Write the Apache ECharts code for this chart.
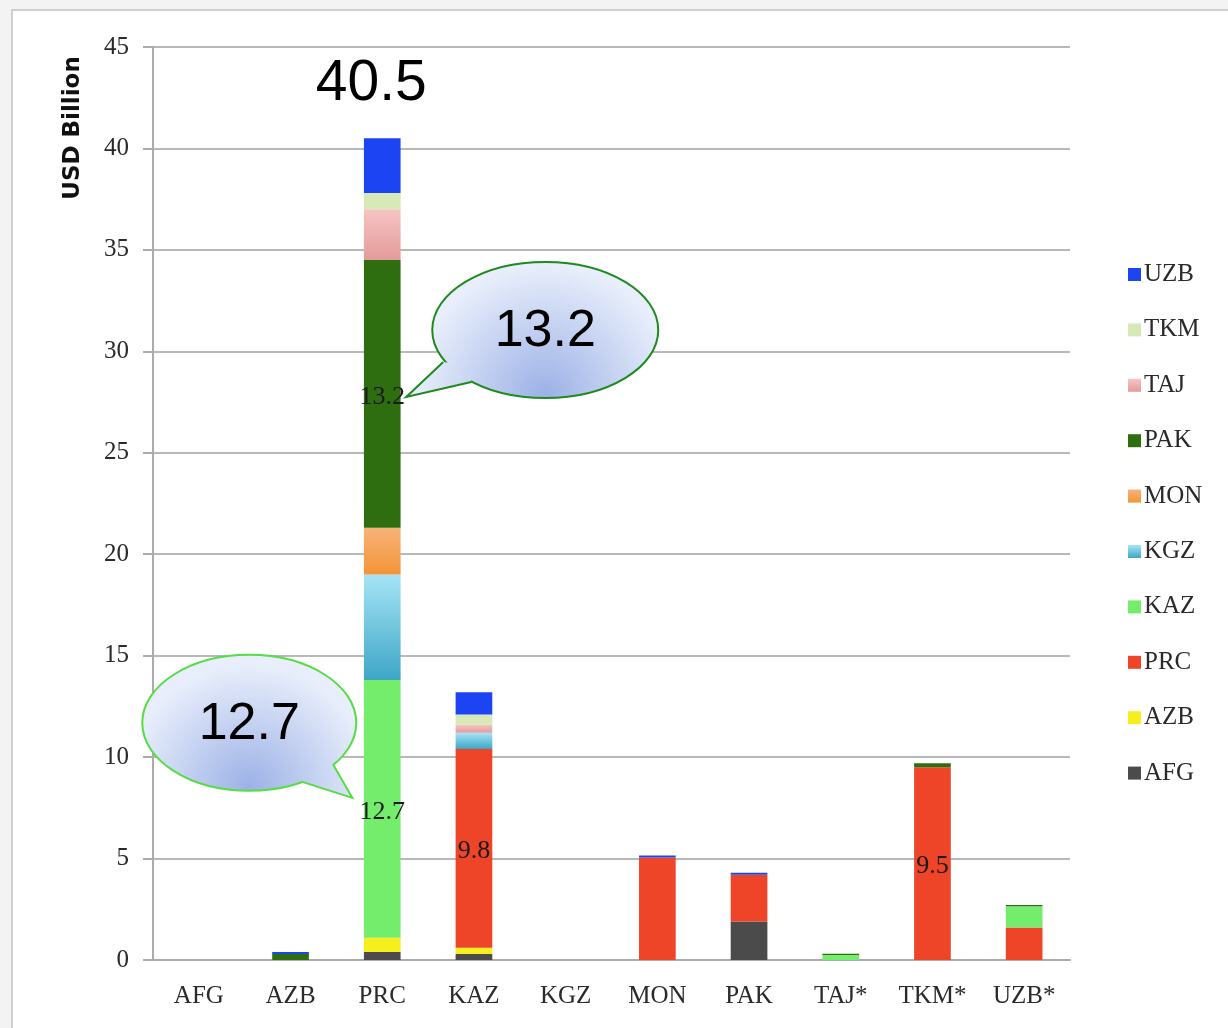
<!DOCTYPE html>
<html>
<head>
<meta charset="utf-8">
<script src="https://cdn.jsdelivr.net/npm/echarts@6/dist/echarts.min.js"></script>
<style>
  html, body { margin: 0; padding: 0; background: #f3f3f3; }
  #frame { position: absolute; left: 11px; top: 9px; width: 1240px; height: 1040px; background: #fff; border: 2px solid #cfcfcf; box-sizing: border-box; }
  #chart { position: absolute; left: 0; top: 0; width: 1228px; height: 1028px; }
</style>
</head>
<body>
<div id="frame"></div>
<div id="chart"></div>
<script>
// Categories (x axis)
var categories = ['AFG', 'AZB', 'PRC', 'KAZ', 'KGZ', 'MON', 'PAK', 'TAJ*', 'TKM*', 'UZB*'];
// Y ticks
var yMin = 0, yMax = 45, yInterval = 5;
// Stacked series (bottom to top), values in USD billion
var seriesNames = ['AFG', 'AZB', 'PRC', 'KAZ', 'KGZ', 'MON', 'PAK', 'TAJ', 'TKM', 'UZB'];
var AFG = [0, 0, 0.4, 0.3, 0, 0, 1.9, 0, 0, 0];
var AZB = [0, 0, 0.7, 0.3, 0, 0, 0, 0, 0, 0];
var PRC = [0, 0, 0, 9.8, 0, 5.05, 2.3, 0, 9.5, 1.6];
var KAZ = [0, 0, 12.7, 0, 0, 0, 0, 0.25, 0, 1.05];
var KGZ = [0, 0, 5.2, 0.8, 0, 0, 0, 0, 0, 0];
var MON = [0, 0, 2.3, 0, 0, 0, 0, 0, 0, 0];
var PAK = [0, 0.3, 13.2, 0, 0, 0, 0, 0.06, 0.2, 0.06];
var TAJ = [0, 0, 2.5, 0.4, 0, 0, 0, 0, 0, 0];
var TKM = [0, 0, 0.8, 0.5, 0, 0, 0, 0, 0, 0];
var UZB = [0, 0.1, 2.7, 1.1, 0, 0.1, 0.1, 0, 0, 0];
var values = { AFG: AFG, AZB: AZB, PRC: PRC, KAZ: KAZ, KGZ: KGZ, MON: MON, PAK: PAK, TAJ: TAJ, TKM: TKM, UZB: UZB };
// which data points carry an inside label
var labelled = { PRC: [3, 8], KAZ: [2], PAK: [2] };
// highlighted total and callouts
var totalLabel = { category: 2, value: 40.5, text: '40.5' };
var callouts = [
  { series: 'PAK', index: 2, text: '13.2' },
  { series: 'KAZ', index: 2, text: '12.7' }
];

function vgrad(a, b) {
  return new echarts.graphic.LinearGradient(0, 0, 0, 1, [{ offset: 0, color: a }, { offset: 1, color: b }]);
}
var colors = {
  AFG: '#4b4b4b',
  AZB: '#f7ee1e',
  PRC: '#ee4528',
  KAZ: '#74ec6c',
  KGZ: vgrad('#a6e4f7', '#3ea6c6'),
  MON: vgrad('#f8b27a', '#f39537'),
  PAK: '#2f6e10',
  TAJ: vgrad('#f7c4c4', '#e49a9a'),
  TKM: '#d6e9b6',
  UZB: '#1d44f2'
};
var serifFont = "'Liberation Serif', 'DejaVu Serif', serif";

var series = seriesNames.map(function (name) {
  var lab = labelled[name] || [];
  return {
    name: name,
    type: 'bar',
    stack: 'total',
    barWidth: '40%',
    itemStyle: { color: colors[name] },
    data: values[name].map(function (v, i) {
      var d = { value: v };
      if (lab.indexOf(i) >= 0) {
        d.label = {
          show: true, position: 'inside', color: '#1a1a1a',
          fontFamily: serifFont, fontSize: 26, offset: [0, 3]
        };
      }
      return d;
    })
  };
});

var chart = echarts.init(document.getElementById('chart'), null, { renderer: 'canvas' });
chart.setOption({
  backgroundColor: 'transparent',
  animation: false,
  grid: { left: 153, right: 158, top: 47, bottom: 68, containLabel: false },
  legend: {
    orient: 'vertical',
    left: 1123,
    top: 257,
    itemWidth: 13,
    itemHeight: 13,
    itemGap: 30.4,
    icon: 'rect',
    data: seriesNames.slice().reverse(),
    textStyle: { fontFamily: serifFont, fontSize: 25, color: '#2a2a2a', padding: [0, 0, 0, -2] }
  },
  xAxis: {
    type: 'category',
    data: categories,
    axisLine: { lineStyle: { color: '#ababab', width: 2 } },
    axisTick: { length: 8, lineStyle: { color: '#ababab', width: 2 } },
    axisLabel: { margin: 24, fontFamily: serifFont, fontSize: 25, color: '#2a2a2a' }
  },
  yAxis: {
    type: 'value',
    min: yMin, max: yMax, interval: yInterval,
    axisLine: { show: true, lineStyle: { color: '#ababab', width: 2 } },
    axisTick: { show: true, length: 10, lineStyle: { color: '#ababab', width: 2 } },
    splitLine: { lineStyle: { color: '#b8b8b8', width: 2 } },
    axisLabel: { margin: 24, fontFamily: serifFont, fontSize: 25, color: '#2a2a2a' }
  },
  series: series
});

// Annotations anchored to data positions
function segCenter(name, idx) {
  var base = 0;
  for (var k = 0; k < seriesNames.length; k++) {
    if (seriesNames[k] === name) break;
    base += values[seriesNames[k]][idx];
  }
  return chart.convertToPixel({ gridIndex: 0 }, [idx, base + values[name][idx] / 2]);
}
var g = [];
var totalPos = chart.convertToPixel({ gridIndex: 0 }, [totalLabel.category, totalLabel.value]);
g.push({
  type: 'text', x: totalPos[0] - 11, y: totalPos[1] - 54, z: 100,
  style: { text: totalLabel.text, font: "57px 'Liberation Sans', Arial, sans-serif", fill: '#000', align: 'center', verticalAlign: 'middle' }
});

function bubble(tip, cx, cy, rx, ry, b1, b2, stroke, text) {
  function fill() {
    return new echarts.graphic.RadialGradient(cx, cy + ry * 0.95, rx * 1.15, [
      { offset: 0, color: '#9cb1e6' }, { offset: 1, color: '#e8eefb' }
    ], true);
  }
  var inner = [(b1[0] + b2[0]) / 2 + (cx - (b1[0] + b2[0]) / 2) * 0.15, (b1[1] + b2[1]) / 2 + (cy - (b1[1] + b2[1]) / 2) * 0.15];
  g.push({ type: 'ellipse', z: 100, shape: { cx: cx, cy: cy, rx: rx, ry: ry }, style: { fill: fill(), stroke: stroke, lineWidth: 2 } });
  g.push({ type: 'polygon', z: 101, shape: { points: [b1, tip, b2, inner] }, style: { fill: fill(), stroke: null } });
  g.push({ type: 'polyline', z: 102, shape: { points: [b1, tip, b2] }, style: { stroke: stroke, lineWidth: 2, fill: null } });
  g.push({ type: 'text', z: 103, x: cx, y: cy + 2, style: { text: text, font: "52px 'Liberation Sans', Arial, sans-serif", fill: '#000', align: 'center', verticalAlign: 'middle' } });
}
var c1 = segCenter(callouts[0].series, callouts[0].index);
var t1 = [c1[0] + 24, c1[1] + 3];
bubble(t1, t1[0] + 139, t1[1] - 67, 113, 68, [t1[0] + 37, t1[1] - 35], [t1[0] + 65, t1[1] - 15], '#1e8a1e', callouts[0].text);
var c2 = segCenter(callouts[1].series, callouts[1].index);
var t2 = [c2[0] - 30, c2[1] - 11];
bubble(t2, t2[0] - 103, t2[1] - 75, 107, 68, [t2[0] - 19, t2[1] - 33], [t2[0] - 50, t2[1] - 16], '#55dd44', callouts[1].text);

// Y axis title
g.push({
  type: 'text', x: 73, y: 128, rotation: Math.PI / 2, z: 100,
  style: { text: 'USD Billion', font: "bold 23px 'DejaVu Sans', 'Liberation Sans', sans-serif", fill: '#111', align: 'center', verticalAlign: 'middle' }
});
chart.setOption({ graphic: g });
</script>
</body>
</html>
